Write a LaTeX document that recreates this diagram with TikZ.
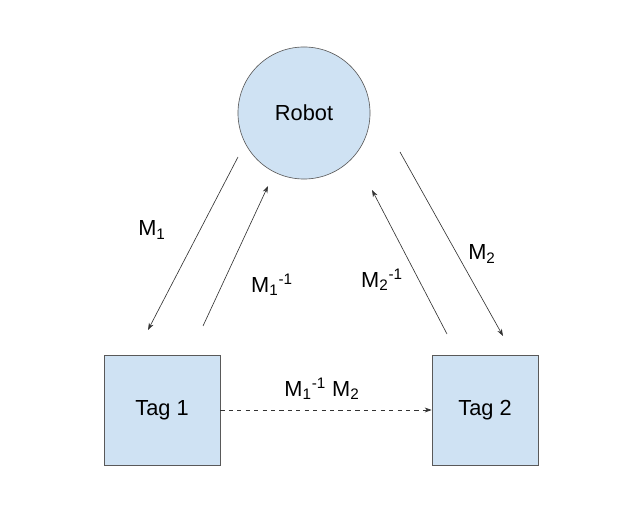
\documentclass[tikz,border=0pt]{standalone}
\usepackage{fontspec}
\setmainfont{Liberation Sans}
\usepackage{tikz}
\usetikzlibrary{arrows.meta,positioning}
\definecolor{tagblue}{HTML}{CFE2F3}
\definecolor{edgegray}{HTML}{595959}

\begin{document}
\begin{tikzpicture}[x=0.025cm, y=-0.025cm, font=\fontsize{15.5}{18}\selectfont, >={Stealth[length=5pt,width=3.5pt]}, line width=.45pt,
    robotnode/.style={circle, draw=edgegray, fill=tagblue, minimum size=3.3cm, inner sep=0pt},
    tagnode/.style={draw=edgegray, fill=tagblue, minimum height=2.75cm, inner sep=0pt},
    link/.style={->, black!80}]
    \useasboundingbox (0,0) rectangle (632,524);
    \node[robotnode] (robot) at (304,113) {Robot};
    \node[tagnode, minimum width=2.9cm] (tag1) at (162,410) {Tag 1};
    \node[tagnode, minimum width=2.65cm] (tag2) at (485,410) {Tag 2};
    % free ends of the robot/tag arrows
    \coordinate (m1s) at (238,157);  \coordinate (m1e) at (148,330);
    \coordinate (i1s) at (203,326);  \coordinate (i1e) at (268,186);
    \coordinate (i2s) at (447,334);  \coordinate (i2e) at (372,190);
    \coordinate (m2s) at (400,152);  \coordinate (m2e) at (503,336);
    \draw[link] (m1s) -- (m1e);
    \draw[link] (i1s) -- (i1e);
    \draw[link] (i2s) -- (i2e);
    \draw[link] (m2s) -- (m2e);
    \draw[link, dashed] (tag1.east) -- (tag2.west);
    \node (lm1) at (152,230) {M\textsubscript{1}};
    \node (li1) at (272,285) {M\textsubscript{1}\textsuperscript{-1}};
    \node (li2) at (382,280) {M\textsubscript{2}\textsuperscript{-1}};
    \node (lm2) at (482,254) {M\textsubscript{2}};
    \node (lmm) at (322,389) {M\textsubscript{1}\textsuperscript{-1} M\textsubscript{2}};
  \end{tikzpicture}
\end{document}
